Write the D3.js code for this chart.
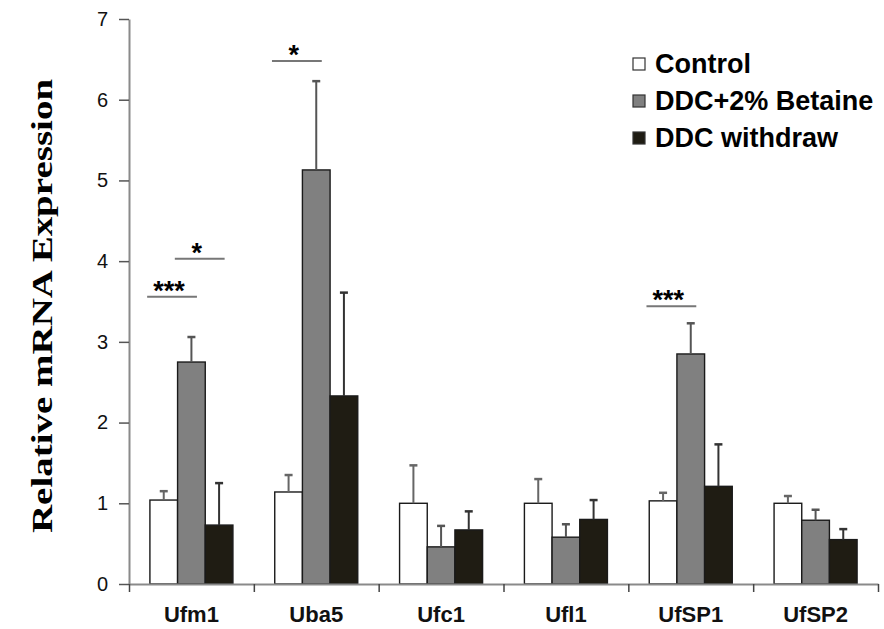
<!DOCTYPE html>
<html>
<head>
<meta charset="utf-8">
<script src="https://cdn.jsdelivr.net/npm/d3@7/dist/d3.min.js"></script>
<style>
  body { margin: 0; background: #fff; }
  #chart { width: 884px; height: 629px; }
  text { font-family: "Liberation Sans", Arial, sans-serif; }
</style>
</head>
<body>
<div id="chart"></div>
<script>
// --- data ---
const genes = ['Ufm1', 'Uba5', 'Ufc1', 'Ufl1', 'UfSP1', 'UfSP2'];
const groups = ['Control', 'DDC+2% Betaine', 'DDC withdraw'];

const controlMean = [1.04, 1.14, 1.00, 1.00, 1.03, 1.00];
const controlErr = [0.11, 0.21, 0.47, 0.30, 0.10, 0.09];
const betaineMean = [2.75, 5.13, 0.46, 0.58, 2.85, 0.79];
const betaineErr = [0.31, 1.10, 0.26, 0.16, 0.38, 0.13];
const withdrawMean = [0.73, 2.33, 0.67, 0.80, 1.21, 0.55];
const withdrawErr = [0.52, 1.28, 0.23, 0.24, 0.52, 0.13];

const yTicks = [0, 1, 2, 3, 4, 5, 6, 7];

// significance brackets: gene, first bar, second bar, height, stars
const sigGene = ['Ufm1', 'Ufm1', 'Uba5', 'UfSP1'];
const sigFrom = [0, 1, 0, 0];
const sigTo = [1, 2, 1, 1];
const sigLevel = [3.56, 4.03, 6.48, 3.44];
const sigLabel = ['***', '*', '*', '***'];

const fills = ['#ffffff', '#808080', '#1f1c13'];
const errColors = ['#666', '#555', '#333'];

// --- build rows ---
const means = [controlMean, betaineMean, withdrawMean];
const errs = [controlErr, betaineErr, withdrawErr];
const rows = [];
genes.forEach((g, i) => {
    groups.forEach((s, j) => {
        rows.push({ gene: g, group: j, mean: means[j][i], err: errs[j][i] });
    });
});

const width = 884, height = 629;
const plot = { left: 129, right: 878, top: 19, bottom: 584 };

const svg = d3.select('#chart').append('svg')
    .attr('width', width)
    .attr('height', height);

// scales
const y = d3.scaleLinear().domain([0, 7]).range([plot.bottom, plot.top]);
const x0 = d3.scaleBand().domain(genes)
    .range([plot.left, plot.right])
    .paddingInner(0.335)
    .paddingOuter(0.1675);
const x1 = d3.scaleBand().domain(d3.range(groups.length)).range([0, x0.bandwidth()]);
const xEdge = d3.scaleLinear().domain([0, genes.length]).range([plot.left, plot.right]);

// y axis
const yAxisG = svg.append('g')
    .attr('transform', `translate(${plot.left},0)`)
    .call(d3.axisLeft(y).tickValues(yTicks).tickFormat(d3.format('d'))
        .tickSize(10).tickSizeOuter(0).tickPadding(11));
yAxisG.select('.domain').attr('stroke', '#8a8a8a').attr('stroke-width', 2);
yAxisG.selectAll('.tick line').attr('stroke', '#555').attr('stroke-width', 1.5);
yAxisG.selectAll('.tick text')
    .attr('font-size', 20)
    .attr('fill', '#111')
    .style('font-family', '"Liberation Sans", Arial, sans-serif');

// bars
const bars = svg.append('g');
bars.selectAll('rect').data(rows).enter().append('rect')
    .attr('x', d => x0(d.gene) + x1(d.group))
    .attr('y', d => y(d.mean))
    .attr('width', x1.bandwidth())
    .attr('height', d => y(0) - y(d.mean))
    .attr('fill', d => fills[d.group])
    .attr('stroke', '#1a1a1a')
    .attr('stroke-width', 1.4);

// error bars (upper only)
const eb = svg.append('g');
eb.selectAll('line.stem').data(rows).enter().append('line')
    .attr('class', 'stem')
    .attr('x1', d => x0(d.gene) + x1(d.group) + x1.bandwidth() / 2)
    .attr('x2', d => x0(d.gene) + x1(d.group) + x1.bandwidth() / 2)
    .attr('y1', d => y(d.mean))
    .attr('y2', d => y(d.mean + d.err))
    .attr('stroke', d => errColors[d.group])
    .attr('stroke-width', 2);
eb.selectAll('line.cap').data(rows).enter().append('line')
    .attr('class', 'cap')
    .attr('x1', d => x0(d.gene) + x1(d.group) + x1.bandwidth() / 2 - 4)
    .attr('x2', d => x0(d.gene) + x1(d.group) + x1.bandwidth() / 2 + 4)
    .attr('y1', d => y(d.mean + d.err))
    .attr('y2', d => y(d.mean + d.err))
    .attr('stroke', d => errColors[d.group])
    .attr('stroke-width', 2.5);

// x axis: baseline with ticks at the category edges
const xAxisG = svg.append('g')
    .attr('transform', `translate(0,${plot.bottom})`)
    .call(d3.axisBottom(xEdge).ticks(genes.length).tickFormat('').tickSize(8).tickSizeOuter(0));
xAxisG.select('.domain').attr('stroke', '#8a8a8a').attr('stroke-width', 2);
xAxisG.selectAll('.tick line').attr('stroke', '#444').attr('stroke-width', 1.5);

svg.append('g').selectAll('text').data(genes).enter().append('text')
    .attr('x', d => x0(d) + x0.bandwidth() / 2)
    .attr('y', 622)
    .attr('text-anchor', 'middle')
    .attr('font-size', 22)
    .attr('font-weight', 'bold')
    .attr('fill', '#111')
    .text(d => d);

// significance lines and stars
const sig = svg.append('g');
sigGene.forEach((g, k) => {
    const bw = x1.bandwidth();
    const xa = x0(g) + x1(sigFrom[k]) + bw / 2 - 0.6 * bw;
    const xb = x0(g) + x1(sigTo[k]) + bw / 2 + 0.2 * bw;
    sig.append('line')
        .attr('x1', xa).attr('x2', xb)
        .attr('y1', y(sigLevel[k])).attr('y2', y(sigLevel[k]))
        .attr('stroke', '#777').attr('stroke-width', 2);
    sig.append('text')
        .attr('x', (xa + xb) / 2 - 3)
        .attr('y', y(sigLevel[k]) + 3)
        .attr('text-anchor', 'middle')
        .attr('font-size', 27)
        .attr('font-weight', 'bold')
        .attr('fill', '#000')
        .text(sigLabel[k]);
});

// y axis title
svg.append('text')
    .attr('transform', 'translate(52,306) rotate(-90) scale(1.3,1)')
    .attr('text-anchor', 'middle')
    .attr('font-size', 30)
    .attr('font-weight', 'bold')
    .style('font-family', '"Liberation Serif", "Times New Roman", serif')
    .text('Relative mRNA Expression');

// legend
const legend = svg.append('g').attr('transform', 'translate(633,0)');
const legendY = [64, 101, 138];
groups.forEach((s, j) => {
    legend.append('rect')
        .attr('x', 0).attr('y', legendY[j] - 6)
        .attr('width', 12).attr('height', 12)
        .attr('fill', fills[j])
        .attr('stroke', '#333').attr('stroke-width', 1.2);
    legend.append('text')
        .attr('x', 22).attr('y', legendY[j] + 9)
        .attr('font-size', 27)
        .attr('font-weight', 'bold')
        .attr('fill', '#000')
        .text(s);
});
</script>
</body>
</html>
